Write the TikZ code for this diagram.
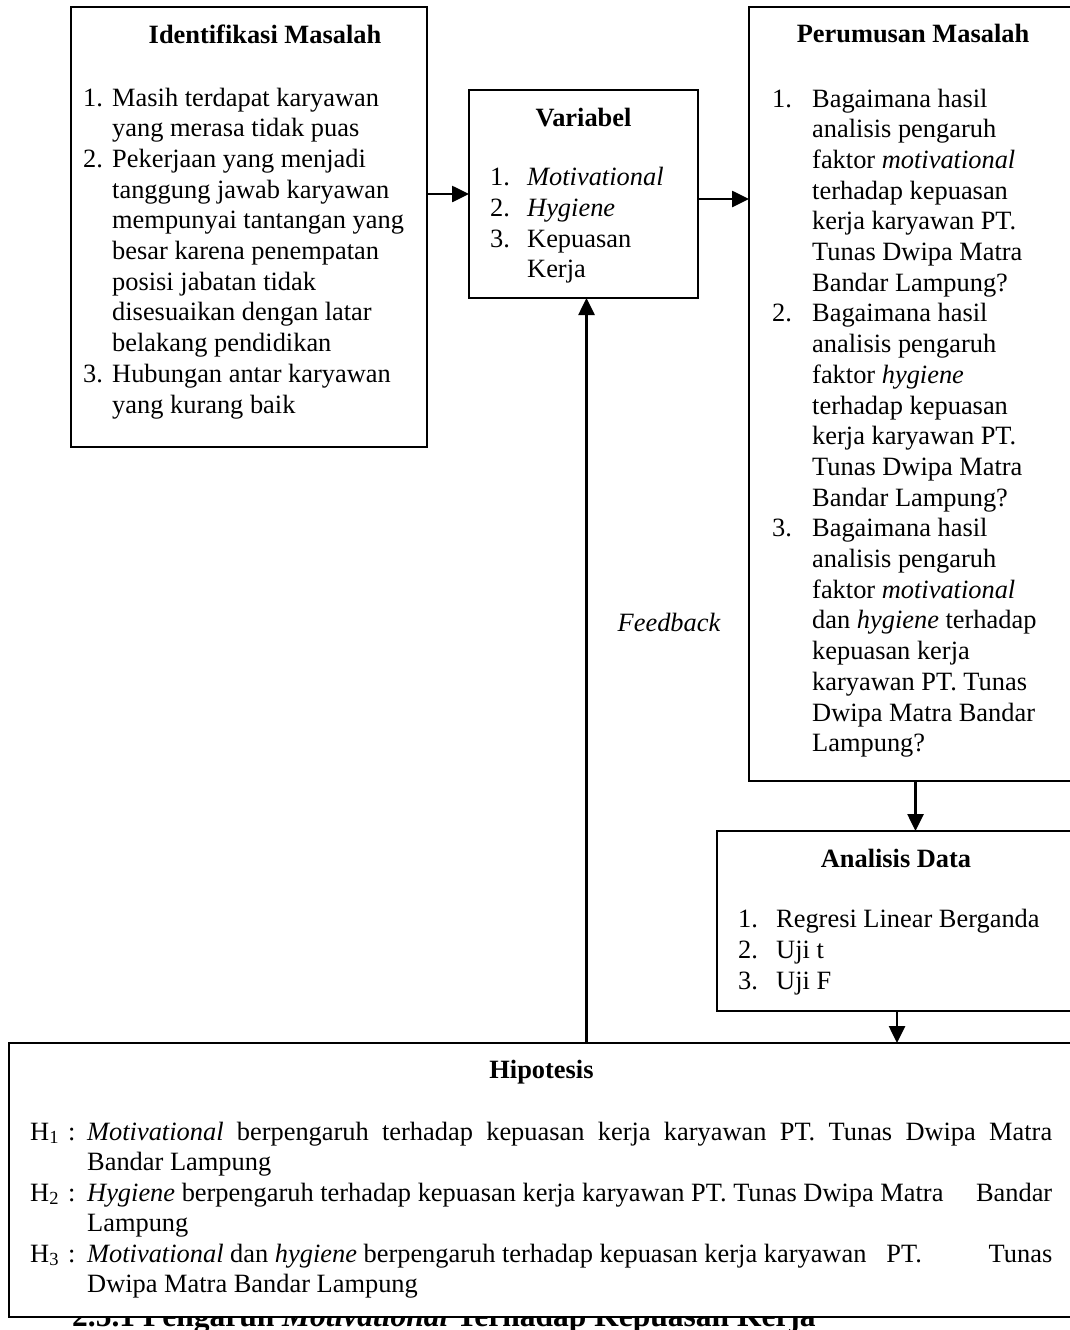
\documentclass[tikz,border=0pt]{standalone}
\usepackage{fontspec}
\setmainfont{Liberation Serif}
\usetikzlibrary{arrows.meta}
\newcommand\bodyfs{\fontsize{26.4pt}{30.7pt}\selectfont}
\newcommand\headfs{\fontsize{31.5pt}{36pt}\selectfont}
\begin{document}
\begin{tikzpicture}[x=1pt,y=-1pt,
  box/.style={draw, line width=2pt, inner sep=0pt, outer sep=0pt, anchor=north west, fill=white},
  arr/.style={line width=2.6pt, -{Triangle[length=17pt,width=16pt]}},
  txt/.style={anchor=base west, inner sep=0pt, font=\bodyfs},
  ttl/.style={anchor=base, inner sep=0pt, font=\bodyfs\bfseries}]
\useasboundingbox (0,0) rectangle (1070,1330);
\clip (0,0) rectangle (1070,1330);
\fill[white] (0,0) rectangle (1070,1330);

% heading below, partly hidden
\node[anchor=base west, inner sep=0pt, font=\headfs\bfseries] (head) at (72,1326) {2.5.1 Pengaruh \textit{Motivational} Terhadap Kepuasan Kerja};

% boxes
\node[box, minimum width=356pt, minimum height=440pt] (idf) at (71,7) {};
\node[box, minimum width=229pt, minimum height=208pt] (var) at (469,90) {};
\node[box, minimum width=333pt, minimum height=774pt] (per) at (749,7) {};
\node[box, minimum width=360pt, minimum height=180pt] (ana) at (717,831) {};
\node[box, minimum width=1071pt, minimum height=274pt] (hip) at (9,1043) {};

% Identifikasi Masalah
\node[ttl] (idft) at (265,44) {Identifikasi Masalah};
\node[txt] (idfn1) at (83,106) {1.};
\node[txt] (idfi1) at (112,106) {\parbox[t]{330pt}{Masih terdapat karyawan\\yang merasa tidak puas}};
\node[txt] (idfn2) at (83,167.4) {2.};
\node[txt] (idfi2) at (112,167.4) {\parbox[t]{330pt}{Pekerjaan yang menjadi\\tanggung jawab karyawan\\mempunyai tantangan yang\\besar karena penempatan\\posisi jabatan tidak\\disesuaikan dengan latar\\belakang pendidikan}};
\node[txt] (idfn3) at (83,382.3) {3.};
\node[txt] (idfi3) at (112,382.3) {\parbox[t]{330pt}{Hubungan antar karyawan\\yang kurang baik}};

% Variabel
\node[ttl] (vart) at (583.5,126) {Variabel};
\node[txt] (varn1) at (490,185) {1.};
\node[txt] (vari1) at (527,185) {\textit{Motivational}};
\node[txt] (varn2) at (490,216) {2.};
\node[txt] (vari2) at (527,216) {\textit{Hygiene}};
\node[txt] (varn3) at (490,247) {3.};
\node[txt] (vari3) at (527,247) {\parbox[t]{160pt}{Kepuasan\\Kerja}};

% Perumusan Masalah
\node[ttl] (pert) at (913,43) {Perumusan Masalah};
\node[txt] (pern1) at (772,107) {1.};
\node[txt] (peri1) at (812,107) {\parbox[t]{300pt}{Bagaimana hasil\\analisis pengaruh\\faktor \textit{motivational}\\terhadap kepuasan\\kerja karyawan PT.\\Tunas Dwipa Matra\\Bandar Lampung?}};
\node[txt] (pern2) at (772,321.9) {2.};
\node[txt] (peri2) at (812,321.9) {\parbox[t]{300pt}{Bagaimana hasil\\analisis pengaruh\\faktor \textit{hygiene}\\terhadap kepuasan\\kerja karyawan PT.\\Tunas Dwipa Matra\\Bandar Lampung?}};
\node[txt] (pern3) at (772,536.8) {3.};
\node[txt] (peri3) at (812,536.8) {\parbox[t]{300pt}{Bagaimana hasil\\analisis pengaruh\\faktor \textit{motivational}\\dan \textit{hygiene} terhadap\\kepuasan kerja\\karyawan PT. Tunas\\Dwipa Matra Bandar\\Lampung?}};

% Analisis Data
\node[ttl] (anat) at (896,867) {Analisis Data};
\node[txt] (anan1) at (738,927) {1.};
\node[txt] (anai1) at (776,927) {Regresi Linear Berganda};
\node[txt] (anan2) at (738,958) {2.};
\node[txt] (anai2) at (776,958) {Uji t};
\node[txt] (anan3) at (738,989) {3.};
\node[txt] (anai3) at (776,989) {Uji F};

% Hipotesis
\node[ttl] (hipt) at (541.5,1078) {Hipotesis};
\node[txt] (h1l) at (30,1140) {H\textsubscript{1}\hspace{9pt}:};
\node[txt] (h1a) at (87,1140) {\makebox[965pt][s]{\textit{Motivational} berpengaruh terhadap kepuasan kerja karyawan PT. Tunas Dwipa Matra}};
\node[txt] (h1b) at (87,1170.5) {Bandar Lampung};
\node[txt] (h2l) at (30,1201) {H\textsubscript{2}\hspace{9pt}:};
\node[txt] (h2a) at (87,1201) {\makebox[965pt][l]{\textit{Hygiene} berpengaruh terhadap kepuasan kerja karyawan PT. Tunas Dwipa Matra\hfill Bandar}};
\node[txt] (h2b) at (87,1231.5) {Lampung};
\node[txt] (h3l) at (30,1262) {H\textsubscript{3}\hspace{9pt}:};
\node[txt] (h3a) at (87,1262) {\makebox[965pt][l]{\textit{Motivational} dan \textit{hygiene} berpengaruh terhadap kepuasan kerja karyawan\hspace{20pt}PT.\hfill Tunas}};
\node[txt] (h3b) at (87,1292.5) {Dwipa Matra Bandar Lampung};

% Feedback label
\node[anchor=base, inner sep=0pt, font=\bodyfs\itshape] (fb) at (669,631) {Feedback};

% connectors
\draw[arr] (idf.east |- var.west) -- (var.west);
\draw[arr] ([yshift=-5pt]var.east) -- ([yshift=-5pt]var.east -| per.west);
\draw[arr] (per.south) -- (per.south |- ana.north);
\draw[arr] (ana.south) -- (ana.south |- hip.north);
\draw[arr] ([xshift=3pt]var.south |- hip.north) -- ([xshift=3pt]var.south);
\end{tikzpicture}
\end{document}
